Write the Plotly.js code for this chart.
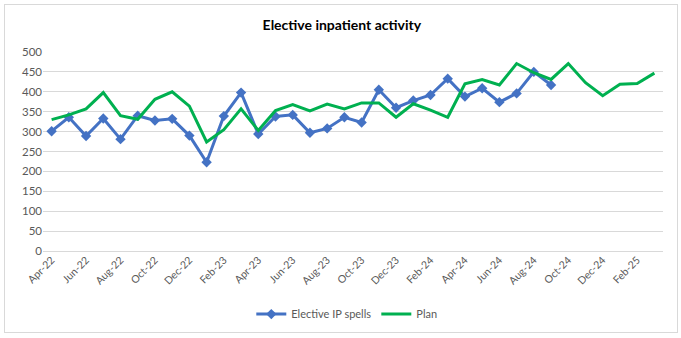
<!DOCTYPE html>
<html>
<head>
<meta charset="utf-8">
<script src="https://cdn.plot.ly/plotly-3.0.1.min.js"></script>
<style>
  html, body { margin: 0; padding: 0; background: #fff; }
  #frame { position: absolute; left: 4px; top: 4px; width: 674px; height: 329px; border: 1px solid #d9d9d9; box-sizing: border-box; }
  #chart { position: absolute; left: 0; top: 0; width: 681px; height: 338px; }
</style>
</head>
<body>
<div id="frame"></div>
<div id="chart"></div>
<script>
const months = ["Apr-22","May-22","Jun-22","Jul-22","Aug-22","Sep-22","Oct-22","Nov-22","Dec-22","Jan-23","Feb-23","Mar-23",
                "Apr-23","May-23","Jun-23","Jul-23","Aug-23","Sep-23","Oct-23","Nov-23","Dec-23","Jan-24","Feb-24","Mar-24",
                "Apr-24","May-24","Jun-24","Jul-24","Aug-24","Sep-24","Oct-24","Nov-24","Dec-24","Jan-25","Feb-25","Mar-25"];
const electiveSpells = [301,336,289,333,281,340,328,332,290,223,339,398,
                        294,338,342,297,308,336,323,405,360,378,392,433,
                        388,409,374,396,450,417];
const plan = [330,342,357,398,340,331,381,400,364,274,305,357,
              303,353,368,352,369,357,372,372,336,370,354,336,
              420,431,417,471,448,431,471,423,390,419,421,447];
const tickLabels = ["Apr-22","Jun-22","Aug-22","Oct-22","Dec-22","Feb-23","Apr-23","Jun-23","Aug-23","Oct-23",
                    "Dec-23","Feb-24","Apr-24","Jun-24","Aug-24","Oct-24","Dec-24","Feb-25"];

const font = "Lato, 'Open Sans', sans-serif";
const traces = [
  { x: months.slice(0, electiveSpells.length), y: electiveSpells, name: "Elective IP spells", type: "scatter", mode: "lines+markers",
    line: { color: "#4472C4", width: 3 }, marker: { symbol: "diamond", size: 8, color: "#4472C4" } },
  { x: months, y: plan, name: "Plan", type: "scatter", mode: "lines",
    line: { color: "#00B050", width: 3 } }
];
const layout = {
  width: 681, height: 338,
  margin: { l: 43, r: 18, t: 52, b: 87, autoexpand: false },
  paper_bgcolor: "rgba(0,0,0,0)", plot_bgcolor: "rgba(0,0,0,0)",
  font: { family: font, color: "#595959", size: 11 },
  title: { text: "<b>Elective inpatient activity</b>", x: 0.502, xanchor: "center", y: 0.925, yanchor: "middle",
           font: { family: font, size: 14, color: "#000" } },
  showlegend: true,
  legend: { orientation: "h", x: 0.49, xanchor: "center", y: -0.317, yanchor: "middle",
            font: { family: font, size: 11, color: "#595959" } },
  xaxis: { type: "category", categoryorder: "array", categoryarray: months, range: [-0.5, 35.5],
           tickmode: "array", tickvals: tickLabels, ticktext: tickLabels, tickangle: -45, automargin: false,
           showgrid: false, showline: false, zeroline: false, ticks: "", tickfont: { size: 10.5 } },
  yaxis: { range: [0, 500], dtick: 50, tick0: 0, gridcolor: "#d9d9d9", gridwidth: 1, zeroline: true,
           zerolinecolor: "#d9d9d9", zerolinewidth: 1, showline: false, ticks: "", ticklen: 0,
           tickfont: { size: 11.5 }, automargin: false }
};
Plotly.newPlot("chart", traces, layout, { displayModeBar: false, staticPlot: true });
</script>
</body>
</html>
